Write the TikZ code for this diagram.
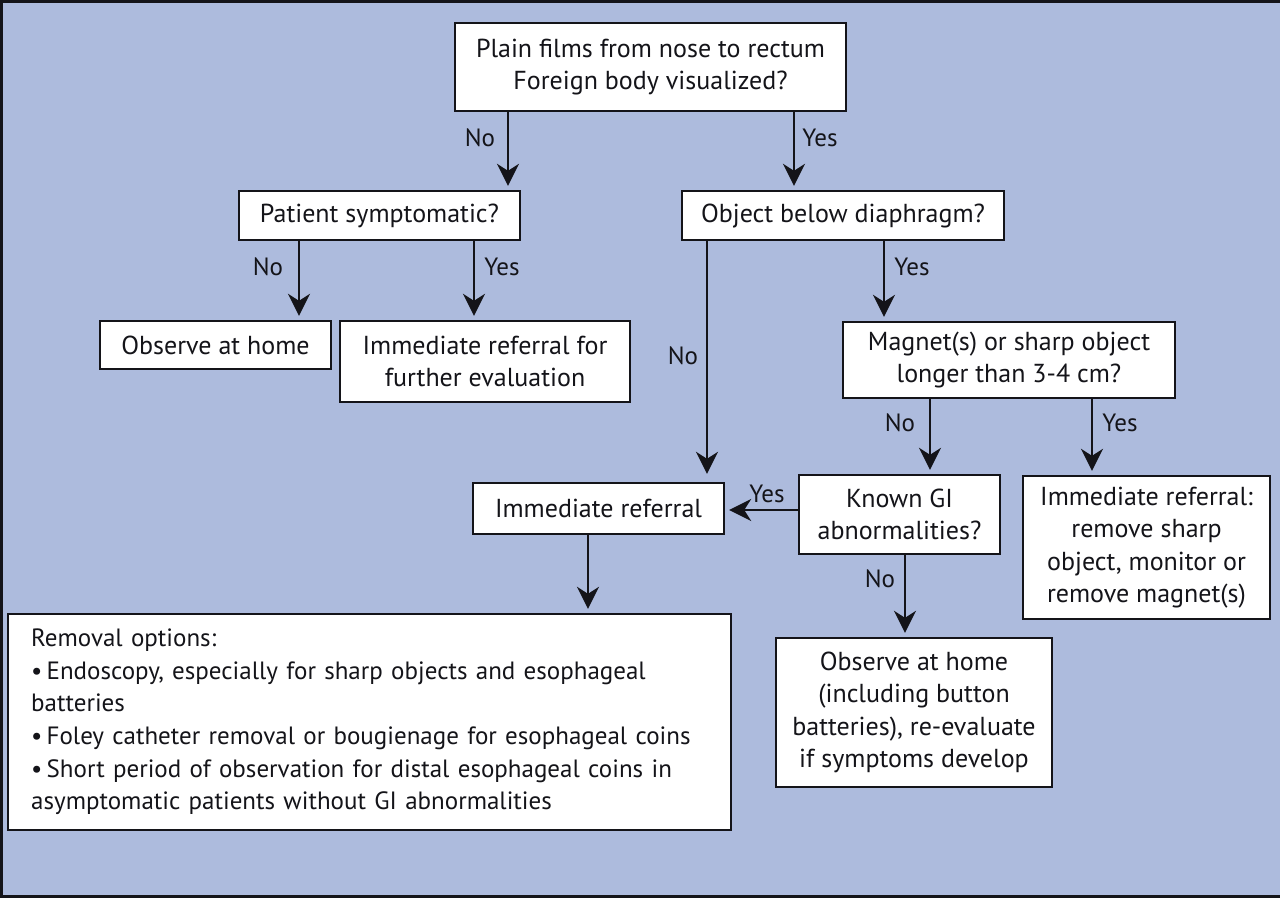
\documentclass[tikz,border=0pt]{standalone}
\usepackage{fontspec}
\setmainfont{PT Sans}
\usetikzlibrary{arrows.meta}
\definecolor{bg}{RGB}{173,187,221}
\definecolor{ink}{RGB}{20,20,25}
\begin{document}
\begin{tikzpicture}[x=1pt,y=-1pt,
 box/.style={draw=ink,line width=2.4pt,fill=white,inner sep=0pt,align=center,font=\fontsize{26}{32.5}\selectfont,text=ink},
 arr/.style={draw=ink,line width=2pt,-{Stealth[length=22pt,width=22pt,inset=7pt]},shorten >=4pt},
 lab/.style={font=\fontsize{25}{30}\selectfont,text=ink}]
\fill[bg] (0,0) rectangle (1280,898);
\useasboundingbox (0,0) rectangle (1280,898);
\draw[ink,line width=3pt] (1280,1.5) -- (1.5,1.5) -- (1.5,896.5) -- (1280,896.5);

\node[box,minimum width=391pt,minimum height=88pt] (top) at (650.5,67) {Plain films from nose to rectum\\Foreign body visualized?};
\node[box,minimum width=281pt,minimum height=49pt] (sym) at (379.5,215.5) {Patient symptomatic?};
\node[box,minimum width=322pt,minimum height=49pt] (obj) at (843,215.5) {Object below diaphragm?};
\node[box,minimum width=231pt,minimum height=48pt] (home1) at (215.5,345) {Observe at home};
\node[box,minimum width=290pt,minimum height=81pt] (further) at (485,361.5) {Immediate referral for\\further evaluation};
\node[box,minimum width=332pt,minimum height=76pt] (magnet) at (1009,360) {Magnet(s) or sharp object\\longer than 3-4 cm?};
\node[box,minimum width=251pt,minimum height=51pt] (ref) at (598.5,508.5) {Immediate referral};
\node[box,minimum width=201pt,minimum height=79pt] (gi) at (899.5,514.5) {Known GI\\abnormalities?};
\node[box,minimum width=247pt,minimum height=143pt] (sharp) at (1146.5,547.5) {Immediate referral:\\remove sharp\\object, monitor or\\remove magnet(s)};
\node[box,minimum width=276pt,minimum height=149pt] (home2) at (914,712.5) {Observe at home\\(including button\\batteries), re-evaluate\\if symptoms develop};
\node[box,minimum width=723pt,minimum height=216pt] (removal) at (369.5,722) {};
\node[anchor=west,inner sep=0pt,text width=696pt,align=left,text=ink,font=\fontsize{25}{32.6}\selectfont] (removaltext) at (31,722) {Removal options:\\
•\,Endoscopy, especially for sharp objects and esophageal\\batteries\\
•\,Foley catheter removal or bougienage for esophageal coins\\
•\,Short period of observation for distal esophageal coins in\\asymptomatic patients without GI abnormalities};

\coordinate (x1) at (508,0);
\coordinate (x2) at (794,0);
\coordinate (x3) at (299,0);
\coordinate (x4) at (474,0);
\coordinate (x5) at (707,0);
\coordinate (x6) at (884,0);
\coordinate (x7) at (930,0);
\coordinate (x8) at (1092,0);
\coordinate (x9) at (905,0);
\coordinate (x10) at (588,0);
\coordinate (y1) at (0,510);

\draw[arr] (top.south -| x1) -- (sym.north -| x1);
\draw[arr] (top.south -| x2) -- (obj.north -| x2);
\draw[arr] (sym.south -| x3) -- (home1.north -| x3);
\draw[arr] (sym.south -| x4) -- (further.north -| x4);
\draw[arr,shorten >=8pt] (obj.south -| x5) -- (ref.north -| x5);
\draw[arr] (obj.south -| x6) -- (magnet.north -| x6);
\draw[arr] (magnet.south -| x7) -- (gi.north -| x7);
\draw[arr] (magnet.south -| x8) -- (sharp.north -| x8);
\draw[arr] (gi.west |- y1) -- (ref.east |- y1);
\draw[arr] (gi.south -| x9) -- (home2.north -| x9);
\draw[arr] (ref.south -| x10) -- (removal.north -| x10);

\node[lab] (l1) at (480,138) {No};
\node[lab] (l2) at (820,138) {Yes};
\node[lab] (l3) at (268,267) {No};
\node[lab] (l4) at (502,267) {Yes};
\node[lab] (l5) at (683,356) {No};
\node[lab] (l6) at (912,267) {Yes};
\node[lab] (l7) at (900,423) {No};
\node[lab] (l8) at (1120,423) {Yes};
\node[lab] (l9) at (767,494) {Yes};
\node[lab] (l10) at (880,579) {No};
\end{tikzpicture}
\end{document}
